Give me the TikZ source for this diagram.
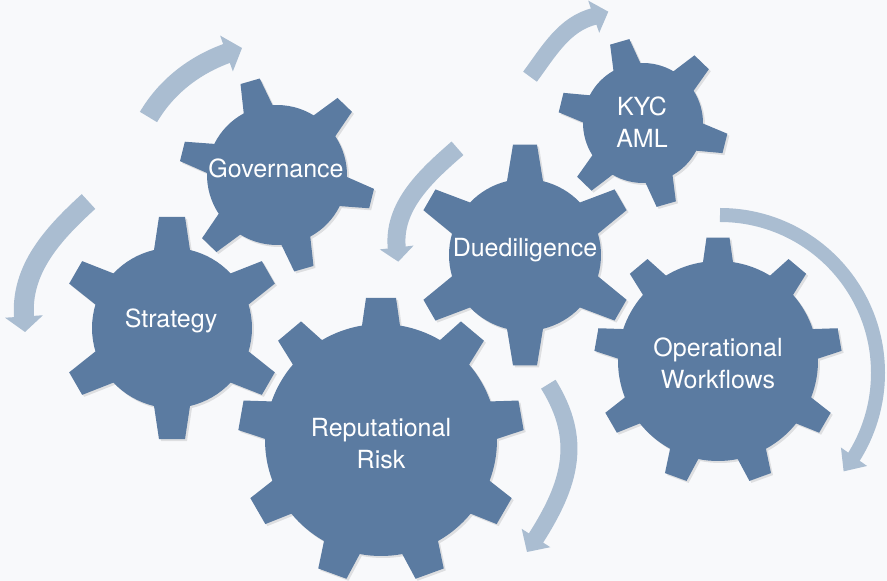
\documentclass[tikz,border=0pt]{standalone}
\usepackage{fontspec}
\setmainfont{TeX Gyre Heros}
\usetikzlibrary{calc}

\definecolor{cogblue}{RGB}{91,123,161}
\definecolor{arrowblue}{RGB}{170,189,209}
\definecolor{paper}{RGB}{248,249,251}

\tikzset{
  cogbody/.style={fill=cogblue},
  cogshade/.style={fill=black, opacity=0.10},
  cogtext/.style={text=white, align=center, font=\fontsize{25}{32}\selectfont, inner sep=0pt},
  spin/.style={draw=arrowblue, line cap=butt},
  spinhead/.style={fill=arrowblue},
}

% #1 style, #2 cx, #3 cy, #4 teeth, #5 first tooth angle,
% #6 body radius, #7 tip radius, #8 tooth half width at base, #9 at tip
\newcommand\cog[9]{%
  \pgfmathsetmacro\cogstep{360/#4}%
  \pgfmathsetmacro\cogb{asin(#8/#6)}%
  \pgfmathsetmacro\cogt{asin(#9/#7)}%
  \pgfmathtruncatemacro\coglast{#4-1}%
  \path[#1, shift={(#2,#3)}] ({#5-\cogb}:#6pt)
    \foreach \k in {0,...,\coglast}{
      -- ({#5+\k*\cogstep-\cogb}:#6pt) -- ({#5+\k*\cogstep-\cogt}:#7pt)
      -- ({#5+\k*\cogstep+\cogt}:#7pt) -- ({#5+\k*\cogstep+\cogb}:#6pt)
      arc[start angle={#5+\k*\cogstep+\cogb}, end angle={#5+(\k+1)*\cogstep-\cogb}, radius=#6pt]
    } -- cycle;%
}

% triangular head: #1 base centre, #2 tip, #3 half width
\newcommand\spinhead[3]{%
  \fill[spinhead] ($(#1)!#3pt!90:(#2)$) -- (#2) -- ($(#1)!#3pt!-90:(#2)$) -- cycle;%
}

\begin{document}
\begin{tikzpicture}[x=1pt, y=1pt]
\useasboundingbox (0,0) rectangle (887,581);
\fill[paper] (0,0) rectangle (887,581);

% ---- curved arrows -------------------------------------------------
% above Governance
\coordinate (a1t) at (148.5,464);
\coordinate (a1b) at (226.5,527.5);
\coordinate (a1p) at (242,533);
\draw[spin, line width=20pt] (a1t) .. controls (166,493.8) and (193.9,515.9) .. ($(a1b)!1.5pt!(a1p)$);
\spinhead{a1b}{a1p}{19}

% left of Strategy
\coordinate (a2t) at (88.5,379.5);
\coordinate (a2b) at (24,264.5);
\coordinate (a2p) at (25,249);
\draw[spin, line width=20pt] (a2t) .. controls (54,348) and (20,312) .. ($(a2b)!1.5pt!(a2p)$);
\spinhead{a2b}{a2p}{19}

% left of Duediligence
\coordinate (a3t) at (457.5,432.7);
\coordinate (a3b) at (396.7,333.5);
\coordinate (a3p) at (398.3,319.3);
\draw[spin, line width=18pt] (a3t) .. controls (426.3,405.5) and (392.1,374.6) .. ($(a3b)!1.5pt!(a3p)$);
\spinhead{a3b}{a3p}{17}

% above KYC / AML
\coordinate (a4t) at (530,504.3);
\coordinate (a4b) at (593.7,564.3);
\coordinate (a4p) at (608.3,569.3);
\draw[spin, line width=17pt] (a4t) .. controls (548.1,528.5) and (564.2,557.8) .. ($(a4b)!1.5pt!(a4p)$);
\spinhead{a4b}{a4p}{17}

% right of Operational Workflows
\coordinate (a5c) at (720,208);
\coordinate (a5b) at ($(a5c)+(-32:158pt)$);
\coordinate (a5p) at ($(a5c)+(-38.5:158pt)$);
\draw[spin, line width=14pt] ($(a5c)+(90:158pt)$) arc[start angle=90, end angle=-33, radius=158pt];
\spinhead{a5b}{a5p}{16}

% right of Reputational Risk
\coordinate (a6t) at (548.3,196.8);
\coordinate (a6b) at (536,43);
\coordinate (a6p) at (527,29);
\draw[spin, line width=17pt] (a6t) .. controls (582.8,141.5) and (571.1,97.6) .. ($(a6b)!1.5pt!(a6p)$);
\spinhead{a6b}{a6p}{17}

% ---- gear shadows --------------------------------------------------
\cog{cogshade}{279}{404}{6}{106}{70}{98}{15}{10}
\cog{cogshade}{174}{251}{6}{90}{80}{112}{18}{13}
\cog{cogshade}{645}{456}{6}{106}{60}{85}{14}{10}
\cog{cogshade}{527}{324}{6}{90}{76}{111}{18}{12}
\cog{cogshade}{720}{218}{9}{90}{100}{124}{15}{11.5}
\cog{cogshade}{383}{139}{9}{90}{116}{143}{19}{15}

% ---- gears ---------------------------------------------------------
\cog{cogbody}{277}{406}{6}{106}{70}{98}{15}{10}
\cog{cogbody}{172}{253}{6}{90}{80}{112}{18}{13}
\cog{cogbody}{643}{458}{6}{106}{60}{85}{14}{10}
\cog{cogbody}{525}{326}{6}{90}{76}{111}{18}{12}
\cog{cogbody}{718}{220}{9}{90}{100}{124}{15}{11.5}
\cog{cogbody}{381}{141}{9}{90}{116}{143}{19}{15}

% ---- labels --------------------------------------------------------
\node[cogtext] (gov) at (276,413) {Governance};
\node[cogtext] (str) at (171,260) {Strategy};
\node[cogtext] (kyc) at (642,459) {KYC\\AML};
\node[cogtext] (due) at (525,331) {Duediligence};
\node[cogtext] (ops) at (718,218) {Operational\\Workflows};
\node[cogtext] (rep) at (381,137) {Reputational\\Risk};
\end{tikzpicture}
\end{document}
